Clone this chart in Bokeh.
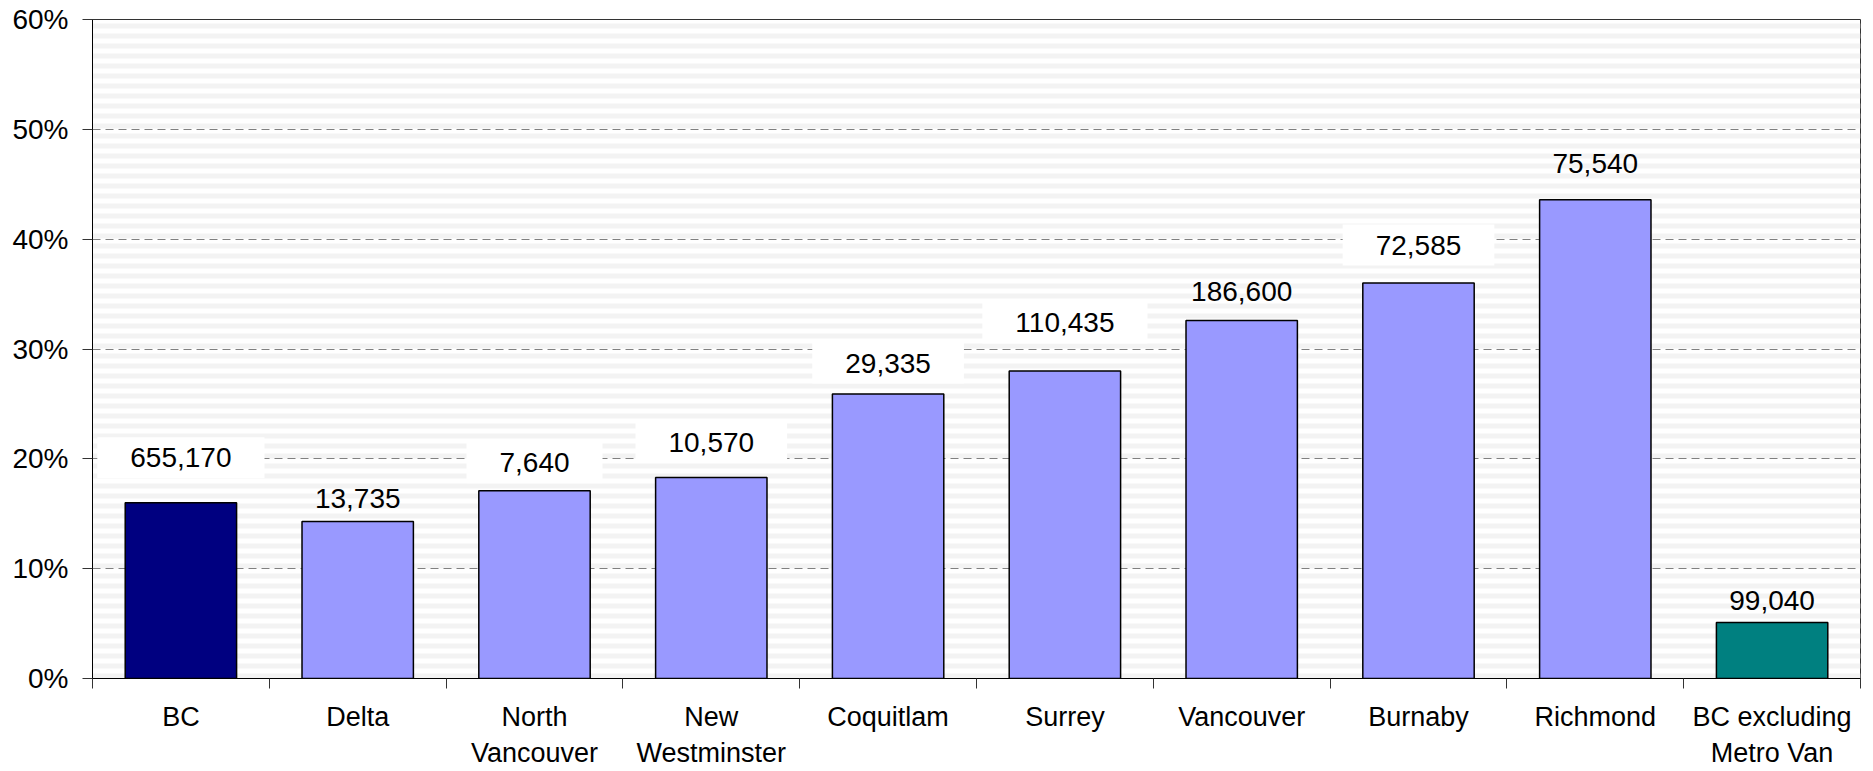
from bokeh.plotting import figure
from bokeh.models import (Range1d, LinearAxis, FixedTicker, NumeralTickFormatter,
                          ColumnDataSource)
from bokeh.core.properties import value
from bokeh.embed import file_html
from bokeh.resources import INLINE

# ---- data ----
categories = ["BC", "Delta", "North\nVancouver", "New\nWestminster", "Coquitlam",
              "Surrey", "Vancouver", "Burnaby", "Richmond", "BC excluding\nMetro Van"]
shares = [0.160, 0.143, 0.171, 0.183, 0.259, 0.280, 0.326, 0.360, 0.436, 0.051]
counts = ["655,170", "13,735", "7,640", "10,570", "29,335",
          "110,435", "186,600", "72,585", "75,540", "99,040"]
y_ticks = [0.0, 0.1, 0.2, 0.3, 0.4, 0.5, 0.6]

# ---- styles ----
bar_colors = ["#000080"] + ["#9999FF"] * 8 + ["#008080"]
label_lift_px = [45, 23, 28, 35, 31, 48, 29, 38, 36, 22]
label_box = ["white", None, "white", "white", "white", "white", None, "white", None, None]
FONT = "Liberation Sans"
FS = "28px"
STRIPE = "#f3f3f3"

n = len(categories)
centers = [i + 0.5 for i in range(n)]
edges = list(range(n + 1))

src = ColumnDataSource(dict(x=centers, share=shares, count=counts,
                            color=bar_colors,
                            lift=[-v for v in label_lift_px],
                            box=[b if b else "rgba(0,0,0,0)" for b in label_box]))

p = figure(x_range=Range1d(0, n), y_range=Range1d(0, 0.6),
           frame_width=1768, frame_height=659,
           min_border_left=92, min_border_top=19, min_border_right=5, min_border_bottom=0,
           x_axis_location=None, output_backend="svg", toolbar_location=None)

p.background_fill_color = "white"
p.border_fill_color = "white"
p.outline_line_color = "#333333"
p.outline_line_width = 1

# faint slide stripes behind the plot area
p.quad(left=[0], right=[n], bottom=[0], top=[0.6],
       fill_color=None, line_color=None, hatch_pattern="horizontal_line",
       hatch_color=STRIPE, hatch_scale=10, hatch_weight=5, level="underlay")

# y axis
ya = p.yaxis[0]
ya.ticker = FixedTicker(ticks=y_ticks)
ya.formatter = NumeralTickFormatter(format="0%")
ya.major_tick_out = 10
ya.major_tick_in = 0
ya.minor_tick_line_color = None
ya.major_tick_line_color = "#333333"
ya.axis_line_color = "#000000"
ya.major_label_standoff = 14
ya.major_label_text_font = FONT
ya.major_label_text_font_size = FS
ya.major_label_text_color = "#000000"

p.ygrid.ticker = FixedTicker(ticks=y_ticks[1:-1])
p.ygrid.grid_line_color = "#808080"
p.ygrid.grid_line_dash = "8 5"
p.ygrid.grid_line_width = 1
p.xgrid.visible = False

# x axis: labels at centres, tick marks at category boundaries (minor ticks)
xa = LinearAxis(ticker=FixedTicker(ticks=centers, minor_ticks=edges),
                major_label_overrides={c: name for c, name in zip(centers, categories)},
                axis_line_color="#000000",
                major_tick_line_color=None, major_tick_out=0, major_tick_in=0,
                minor_tick_line_color="#333333", minor_tick_out=10, minor_tick_in=0,
                major_label_standoff=13,
                major_label_text_font=FONT, major_label_text_font_size="27px",
                major_label_text_color="#000000")
p.add_layout(xa, "below")

# bars
p.vbar(x="x", top="share", width=0.63, bottom=0, source=src,
       fill_color="color", line_color="#000000", line_width=1.5)

# value labels
p.text(x="x", y="share", text="count", source=src, y_offset="lift",
       text_align="center", text_baseline="middle",
       text_font=value(FONT), text_font_size=FS, text_color="#000000",
       background_fill_color="box", padding=(33, 11))

open("out.html", "w").write(file_html(p, INLINE))
